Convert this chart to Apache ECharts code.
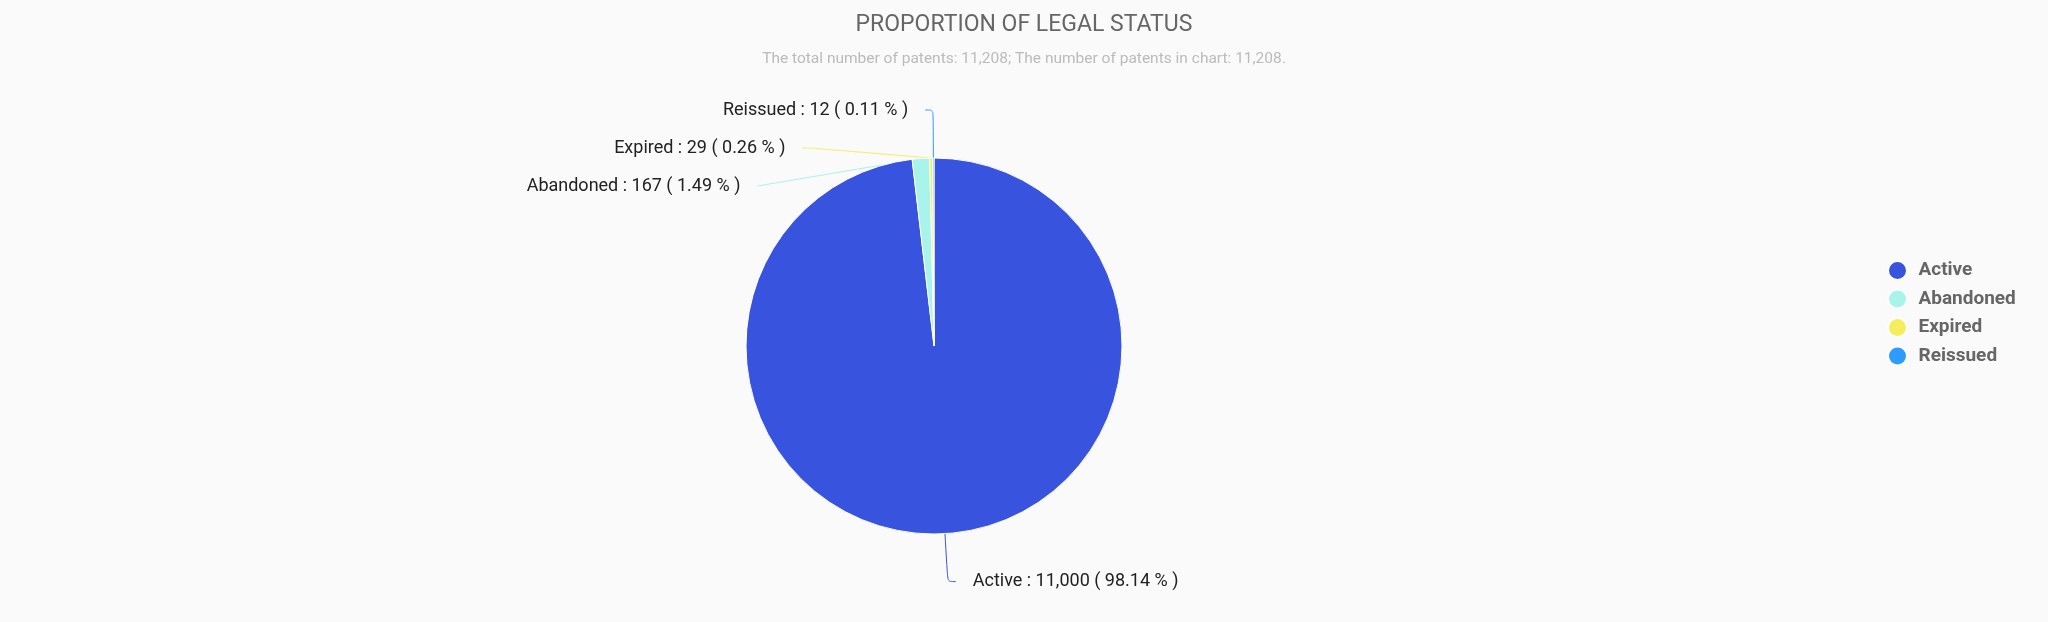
<!DOCTYPE html>
<html><head><meta charset="utf-8">
<script src="https://cdn.jsdelivr.net/npm/echarts@6/dist/echarts.min.js"></script>
<style>html,body{margin:0;padding:0;background:#fafafa}#c{width:2048px;height:622px}</style>
</head><body><div id="c"></div>
<script>
const categories = ['Active', 'Abandoned', 'Expired', 'Reissued'];
const values = [11000, 167, 29, 12];
const colors = ['#3853DE', '#A8F4EA', '#F4EE5E', '#2E9BFF'];
const titleText = 'PROPORTION OF LEGAL STATUS';
const subtitleText = 'The total number of patents: 11,208; The number of patents in chart: 11,208.';

const chart = echarts.init(document.getElementById('c'));
chart.setOption({
  backgroundColor: '#fafafa',
  title: {
    text: titleText, subtext: subtitleText, left: 'center', top: 9,
    textStyle: { fontFamily: 'Roboto', fontSize: 23, fontWeight: 'normal', color: '#666' },
    subtextStyle: { fontFamily: 'Roboto', fontSize: 15.5, color: '#bbb' },
    itemGap: 14
  },
  legend: {
    orient: 'vertical', left: 1882, top: 255, icon: 'circle', itemWidth: 32, itemHeight: 19, itemGap: 7.5,
    data: categories,
    textStyle: { fontFamily: 'Roboto', fontSize: 19, fontWeight: 'bold', color: '#666' }
  },
  color: colors,
  series: [{
    type: 'pie', radius: 188, center: [934, 346], startAngle: 90, clockwise: true,
    data: categories.map((n, i) => ({ name: n, value: values[i] })),
    itemStyle: { borderColor: '#fff', borderWidth: 1 },
    label: {
      fontFamily: 'Roboto', fontSize: 18, color: '#222', lineHeight: 36, padding: [0, 12],
      formatter: p => p.name + ' : ' + p.value.toLocaleString('en-US') + ' ( ' + p.percent.toFixed(2) + ' % )'
    },
    labelLine: { smooth: true, length: 48, length2: 8 }
  }]
});
</script></body></html>
